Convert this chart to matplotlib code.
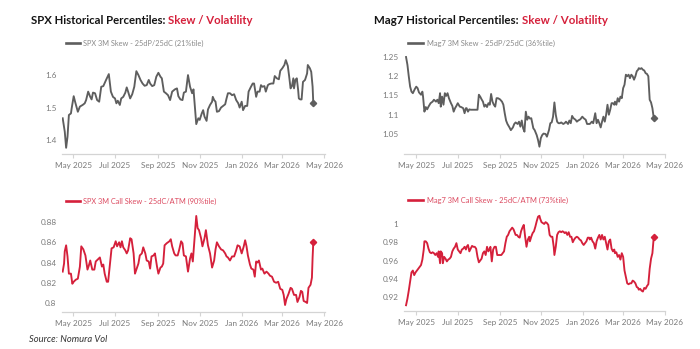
import matplotlib
matplotlib.use("Agg")
import matplotlib.pyplot as plt
import matplotlib.dates as mdates
from matplotlib.lines import Line2D
import pandas as pd

# ---------------------------------------------------------------------------
# Data: days counted from 1 May 2025, with the matching series values
# ---------------------------------------------------------------------------
BASE_DATE = "2025-05-01"

spx_skew_days = [
    -15, -12, -10, -8, -6, -3, -2, 1, 3, 7,
    10, 14, 17, 19, 22, 25, 27, 29, 32, 35,
    38, 41, 44, 48, 52, 55, 58, 61, 63, 65,
    68, 70, 73, 76, 78, 80, 83, 86, 89, 92,
    95, 98, 101, 104, 107, 110, 112, 115, 118, 121,
    124, 127, 129, 132, 135, 138, 141, 144, 148, 151,
    153, 156, 159, 161, 164, 167, 170, 173, 175, 177,
    179, 182, 184, 187, 189, 191, 194, 196, 199, 202,
    203, 205, 207, 209, 212, 215, 218, 221, 223, 225,
    228, 231, 234, 237, 240, 242, 245, 247, 250, 253,
    255, 258, 261, 263, 266, 268, 271, 273, 275, 278,
    280, 283, 285, 288, 291, 293, 296, 299, 301, 304,
    307, 309, 312, 314, 316, 318, 320, 321, 323, 325,
    327, 328, 330, 332, 334, 337, 340, 341, 344, 346,
    348, 349,
]
spx_skew = [
    1.467, 1.426, 1.376, 1.410, 1.477, 1.482, 1.497, 1.535, 1.518, 1.487,
    1.503, 1.508, 1.513, 1.523, 1.549, 1.533, 1.525, 1.546, 1.544, 1.523,
    1.518, 1.564, 1.566, 1.585, 1.603, 1.549, 1.533, 1.528, 1.513, 1.521,
    1.508, 1.528, 1.533, 1.546, 1.562, 1.549, 1.528, 1.541, 1.564, 1.612,
    1.600, 1.585, 1.574, 1.567, 1.569, 1.585, 1.574, 1.566, 1.569, 1.595,
    1.607, 1.595, 1.590, 1.549, 1.544, 1.538, 1.523, 1.549, 1.556, 1.559,
    1.535, 1.525, 1.523, 1.546, 1.549, 1.600, 1.564, 1.544, 1.556, 1.503,
    1.449, 1.467, 1.462, 1.482, 1.492, 1.472, 1.459, 1.494, 1.508, 1.518,
    1.533, 1.523, 1.518, 1.487, 1.489, 1.500, 1.505, 1.510, 1.528, 1.544,
    1.544, 1.538, 1.541, 1.523, 1.513, 1.500, 1.518, 1.492, 1.505, 1.505,
    1.549, 1.562, 1.574, 1.574, 1.533, 1.549, 1.549, 1.569, 1.564, 1.566,
    1.549, 1.569, 1.572, 1.574, 1.574, 1.597, 1.590, 1.587, 1.613, 1.621,
    1.631, 1.646, 1.628, 1.595, 1.559, 1.566, 1.590, 1.559, 1.585, 1.590,
    1.554, 1.528, 1.525, 1.525, 1.579, 1.585, 1.605, 1.631, 1.621, 1.610,
    1.564, 1.513,
]

spx_call_days = [
    -15, -13, -12, -10, -8, -6, -3, -1, 1, 4,
    7, 10, 12, 15, 18, 21, 23, 25, 28, 31,
    33, 36, 39, 42, 44, 46, 49, 51, 54, 56,
    59, 62, 64, 67, 69, 71, 73, 76, 78, 80,
    83, 85, 88, 90, 92, 95, 97, 100, 102, 105,
    107, 110, 112, 114, 117, 119, 122, 124, 127, 129,
    131, 133, 136, 140, 142, 144, 147, 149, 152, 154,
    157, 159, 161, 164, 167, 170, 172, 174, 176, 179,
    181, 183, 186, 188, 191, 193, 196, 199, 202, 205,
    207, 209, 212, 215, 218, 221, 223, 225, 228, 231,
    234, 237, 239, 242, 245, 248, 250, 252, 254, 257,
    259, 262, 264, 266, 268, 270, 273, 275, 278, 281,
    284, 286, 289, 292, 295, 298, 301, 304, 306, 308,
    310, 313, 316, 318, 321, 324, 326, 329, 331, 333,
    335, 338, 340, 342, 345, 347, 348, 349,
]
spx_call = [
    0.831, 0.839, 0.851, 0.857, 0.846, 0.829, 0.829, 0.819, 0.821, 0.823,
    0.824, 0.836, 0.856, 0.853, 0.847, 0.833, 0.837, 0.842, 0.833, 0.833,
    0.841, 0.843, 0.845, 0.836, 0.838, 0.829, 0.821, 0.821, 0.841, 0.854,
    0.855, 0.861, 0.856, 0.860, 0.855, 0.861, 0.855, 0.852, 0.849, 0.852,
    0.864, 0.863, 0.849, 0.829, 0.833, 0.839, 0.847, 0.849, 0.855, 0.849,
    0.842, 0.841, 0.834, 0.846, 0.847, 0.849, 0.836, 0.829, 0.835, 0.836,
    0.839, 0.857, 0.859, 0.861, 0.863, 0.856, 0.849, 0.847, 0.847, 0.852,
    0.861, 0.859, 0.847, 0.846, 0.831, 0.844, 0.849, 0.841, 0.859, 0.886,
    0.874, 0.872, 0.864, 0.856, 0.864, 0.872, 0.857, 0.849, 0.835, 0.842,
    0.853, 0.860, 0.856, 0.853, 0.852, 0.849, 0.846, 0.845, 0.842, 0.846,
    0.846, 0.852, 0.857, 0.856, 0.849, 0.856, 0.862, 0.856, 0.847, 0.838,
    0.834, 0.833, 0.826, 0.841, 0.840, 0.842, 0.833, 0.834, 0.829, 0.831,
    0.829, 0.827, 0.826, 0.821, 0.820, 0.821, 0.814, 0.813, 0.808, 0.798,
    0.804, 0.809, 0.815, 0.814, 0.808, 0.808, 0.801, 0.806, 0.812, 0.811,
    0.802, 0.801, 0.800, 0.815, 0.818, 0.825, 0.845, 0.860,
]

mag7_skew_days = [
    -15, -13, -11, -9, -7, -5, -2, 0, 2, 4,
    7, 9, 10, 12, 14, 16, 18, 21, 24, 26,
    29, 31, 33, 35, 36, 38, 40, 42, 44, 46,
    48, 51, 53, 55, 57, 59, 61, 64, 66, 69,
    71, 73, 74, 76, 78, 80, 83, 85, 88, 90,
    92, 94, 96, 98, 100, 102, 104, 106, 108, 110,
    112, 114, 116, 118, 120, 123, 126, 128, 130, 132,
    134, 137, 139, 142, 144, 146, 149, 151, 153, 155,
    157, 159, 161, 163, 165, 167, 169, 172, 174, 177,
    179, 181, 183, 185, 187, 190, 192, 195, 197, 199,
    201, 203, 205, 207, 209, 211, 213, 216, 218, 220,
    223, 225, 227, 229, 231, 234, 236, 238, 241, 244,
    246, 249, 251, 253, 255, 258, 260, 263, 265, 267,
    269, 271, 273, 275, 277, 279, 281, 283, 285, 287,
    289, 291, 292, 294, 296, 298, 300, 302, 304, 306,
    308, 310, 312, 314, 316, 318, 320, 322, 324, 326,
    327, 329, 331, 333, 335, 337, 339, 341, 343, 345,
    347, 349,
]
mag7_skew = [
    1.250, 1.230, 1.200, 1.173, 1.160, 1.156, 1.167, 1.173, 1.169, 1.158,
    1.152, 1.160, 1.147, 1.108, 1.120, 1.114, 1.121, 1.130, 1.134, 1.139,
    1.134, 1.139, 1.130, 1.156, 1.121, 1.147, 1.126, 1.156, 1.149, 1.156,
    1.143, 1.130, 1.123, 1.108, 1.117, 1.123, 1.130, 1.121, 1.120, 1.117,
    1.104, 1.117, 1.117, 1.108, 1.114, 1.113, 1.113, 1.113, 1.113, 1.113,
    1.152, 1.147, 1.140, 1.134, 1.121, 1.126, 1.120, 1.130, 1.126, 1.154,
    1.134, 1.126, 1.121, 1.143, 1.143, 1.140, 1.134, 1.126, 1.104, 1.085,
    1.076, 1.067, 1.060, 1.067, 1.076, 1.080, 1.076, 1.082, 1.069, 1.085,
    1.065, 1.056, 1.108, 1.087, 1.095, 1.090, 1.091, 1.065, 1.060, 1.047,
    1.034, 1.017, 1.039, 1.047, 1.051, 1.050, 1.043, 1.060, 1.078, 1.080,
    1.095, 1.132, 1.100, 1.082, 1.078, 1.078, 1.080, 1.076, 1.078, 1.082,
    1.076, 1.085, 1.078, 1.097, 1.091, 1.087, 1.082, 1.085, 1.088, 1.095,
    1.091, 1.087, 1.076, 1.076, 1.076, 1.082, 1.078, 1.104, 1.078, 1.087,
    1.078, 1.067, 1.082, 1.095, 1.082, 1.100, 1.126, 1.100, 1.113, 1.130,
    1.130, 1.126, 1.134, 1.126, 1.143, 1.134, 1.147, 1.143, 1.169, 1.178,
    1.204, 1.200, 1.204, 1.195, 1.204, 1.200, 1.191, 1.200, 1.213, 1.217,
    1.221, 1.219, 1.221, 1.217, 1.215, 1.208, 1.206, 1.200, 1.139, 1.132,
    1.117, 1.091,
]

mag7_call_days = [
    -15, -13, -11, -9, -7, -5, -3, -1, 1, 3,
    5, 7, 9, 11, 12, 14, 16, 18, 20, 22,
    24, 26, 28, 30, 32, 33, 35, 36, 38, 39,
    41, 43, 45, 47, 49, 51, 53, 55, 57, 59,
    61, 63, 65, 67, 69, 71, 73, 74, 76, 78,
    80, 82, 84, 86, 88, 90, 92, 94, 96, 98,
    100, 102, 104, 106, 108, 109, 111, 113, 115, 117,
    119, 121, 123, 125, 127, 129, 131, 133, 135, 137,
    139, 141, 143, 145, 146, 148, 150, 152, 154, 156,
    158, 160, 162, 164, 166, 167, 169, 171, 173, 175,
    177, 179, 181, 182, 184, 186, 188, 190, 192, 194,
    196, 198, 200, 202, 203, 205, 207, 209, 211, 213,
    215, 217, 218, 220, 222, 224, 226, 228, 230, 232,
    234, 236, 238, 240, 242, 244, 246, 248, 250, 252,
    254, 255, 257, 259, 261, 263, 265, 267, 269, 271,
    273, 275, 277, 279, 281, 283, 285, 287, 289, 291,
    292, 294, 296, 298, 300, 302, 304, 306, 308, 310,
    312, 314, 316, 318, 320, 322, 324, 326, 327, 329,
    331, 333, 335, 337, 339, 341, 343, 345, 347, 349,
]
mag7_call = [
    0.911, 0.918, 0.927, 0.937, 0.947, 0.949, 0.944, 0.947, 0.949, 0.951,
    0.953, 0.955, 0.961, 0.972, 0.981, 0.981, 0.979, 0.973, 0.969, 0.968,
    0.969, 0.968, 0.966, 0.968, 0.964, 0.970, 0.957, 0.970, 0.968, 0.957,
    0.964, 0.962, 0.959, 0.961, 0.962, 0.964, 0.970, 0.973, 0.975, 0.979,
    0.972, 0.970, 0.968, 0.972, 0.973, 0.975, 0.972, 0.975, 0.977, 0.970,
    0.973, 0.976, 0.975, 0.975, 0.973, 0.964, 0.958, 0.960, 0.962, 0.968,
    0.970, 0.966, 0.975, 0.970, 0.973, 0.975, 0.959, 0.972, 0.975, 0.975,
    0.966, 0.966, 0.966, 0.966, 0.968, 0.970, 0.979, 0.986, 0.988, 0.992,
    0.994, 0.996, 0.994, 0.990, 0.988, 0.988, 0.986, 0.985, 0.992, 0.996,
    0.999, 0.986, 0.975, 0.983, 0.986, 0.981, 0.986, 0.990, 0.992, 0.997,
    1.003, 1.008, 1.009, 1.006, 1.002, 1.001, 1.000, 1.002, 1.001, 0.999,
    0.988, 0.986, 0.986, 0.975, 0.966, 0.975, 0.988, 0.991, 0.992, 0.991,
    0.992, 0.991, 0.990, 0.991, 0.988, 0.991, 0.986, 0.986, 0.980, 0.983,
    0.985, 0.986, 0.985, 0.983, 0.982, 0.979, 0.977, 0.979, 0.981, 0.985,
    0.985, 0.983, 0.985, 0.981, 0.979, 0.973, 0.981, 0.985, 0.988, 0.983,
    0.988, 0.983, 0.986, 0.979, 0.972, 0.981, 0.983, 0.973, 0.970, 0.972,
    0.968, 0.969, 0.964, 0.966, 0.961, 0.968, 0.964, 0.949, 0.942, 0.935,
    0.934, 0.935, 0.935, 0.938, 0.937, 0.935, 0.931, 0.930, 0.928, 0.929,
    0.927, 0.926, 0.930, 0.929, 0.932, 0.934, 0.951, 0.962, 0.968, 0.986,
]

spx_skew_label = "SPX 3M Skew - 25dP/25dC (21%tile)"
spx_call_label = "SPX 3M Call Skew - 25dC/ATM (90%tile)"
mag7_skew_label = "Mag7 3M Skew - 25dP/25dC (36%tile)"
mag7_call_label = "Mag7 3M Call Skew - 25dC/ATM (73%tile)"

spx_skew_ticks = [1.4, 1.5, 1.6]
spx_call_ticks = [0.80, 0.82, 0.84, 0.86, 0.88]
mag7_skew_ticks = [1.05, 1.10, 1.15, 1.20, 1.25]
mag7_call_ticks = [0.92, 0.94, 0.96, 0.98, 1.00]

# ---------------------------------------------------------------------------
# Styling
# ---------------------------------------------------------------------------
GREY = "#5e5e5e"
RED = "#d5203b"
LABEL_GREY = "#7a7a7a"
AXIS_GREY = "#d4d4d4"
W, H = 700, 349

plt.rcParams["font.family"] = ["Lato", "DejaVu Sans"]

fig = plt.figure(figsize=(W / 100, H / 100), dpi=100)
fig.patch.set_facecolor("white")


def add_axes_px(x0, y0, x1, y1):
    return fig.add_axes([x0 / W, 1 - y1 / H, (x1 - x0) / W, (y1 - y0) / H])


def draw_panel(ax, days, vals, color, ylim, yticks, xlim):
    dates = pd.Timestamp(BASE_DATE) + pd.to_timedelta(days, unit="D")
    ax.plot(dates, vals, color=color, lw=1.35, solid_joinstyle="round")
    ax.plot(dates[-1:], vals[-1:], marker="D", ms=3.2, color=color, lw=0)
    ax.set_ylim(*ylim)
    ax.set_yticks(yticks)
    ax.set_yticklabels([f"{v:g}" for v in yticks])
    ax.set_xlim(pd.Timestamp(xlim[0]), pd.Timestamp(xlim[1]))
    ax.xaxis.set_major_locator(mdates.MonthLocator(bymonth=[1, 3, 5, 7, 9, 11]))
    ax.xaxis.set_major_formatter(mdates.DateFormatter("%b %Y"))
    for side in ("top", "right", "left"):
        ax.spines[side].set_visible(False)
    ax.spines["bottom"].set_color(AXIS_GREY)
    ax.spines["bottom"].set_linewidth(0.9)
    ax.tick_params(axis="y", length=0, pad=4, labelsize=5.9, labelcolor=LABEL_GREY)
    ax.tick_params(axis="x", length=3, width=0.8, color=AXIS_GREY, pad=2.5,
                   labelsize=5.9, labelcolor=LABEL_GREY)
    ax.set_facecolor("none")


left_xlim = ("2025-04-15", "2026-05-02")
right_xlim = ("2025-04-13", "2026-05-01 12:00")

ax1 = add_axes_px(62, 52, 325, 154)
draw_panel(ax1, spx_skew_days, spx_skew, GREY, (1.357, 1.671), spx_skew_ticks, left_xlim)

ax2 = add_axes_px(404, 52, 665, 154)
draw_panel(ax2, mag7_skew_days, mag7_skew, GREY, (0.998, 1.263), mag7_skew_ticks, right_xlim)

ax3 = add_axes_px(62, 210, 325, 312)
draw_panel(ax3, spx_call_days, spx_call, RED, (0.7911, 0.8919), spx_call_ticks, left_xlim)

ax4 = add_axes_px(404, 210, 665, 311)
draw_panel(ax4, mag7_call_days, mag7_call, RED, (0.9047, 1.0153), mag7_call_ticks, right_xlim)

fig.canvas.draw()
renderer = fig.canvas.get_renderer()


def text_width(t):
    return t.get_window_extent(renderer).width


def two_tone_title(x_px, y_px, first, second, width_px):
    yf = 1 - y_px / H
    t1 = fig.text(x_px / W, yf, first, fontsize=9, fontweight="bold",
                  color="#141414", ha="left", va="center")
    t2 = fig.text(x_px / W, yf, second, fontsize=9, fontweight="bold",
                  color=RED, ha="left", va="center")
    size = 9
    for _ in range(3):
        gap = 0.27 * size * 100 / 72
        total = text_width(t1) + gap + text_width(t2)
        size *= width_px / total
        t1.set_fontsize(size)
        t2.set_fontsize(size)
    gap = 0.27 * size * 100 / 72
    t2.set_x((x_px + text_width(t1) + gap) / W)


def legend_entry(x0, x1, tx, y_px, color, label, width_px, text_color):
    yf = 1 - y_px / H
    fig.add_artist(Line2D([x0 / W, x1 / W], [yf, yf], color=color, lw=1.9,
                          transform=fig.transFigure))
    t = fig.text(tx / W, yf, label, fontsize=5.5, color=text_color,
                 ha="left", va="center")
    for _ in range(2):
        t.set_fontsize(t.get_fontsize() * width_px / text_width(t))


two_tone_title(31, 20, "SPX Historical Percentiles:", "Skew / Volatility", 222)
two_tone_title(374, 20, "Mag7 Historical Percentiles:", "Skew / Volatility", 233)

legend_entry(66, 80, 83, 43, GREY, spx_skew_label, 121, "#8a8a8a")
legend_entry(408, 423, 427, 43, GREY, mag7_skew_label, 127, "#8a8a8a")
legend_entry(66, 80, 83, 201, RED, spx_call_label, 134, "#dc4a60")
legend_entry(408, 423, 427, 200, RED, mag7_call_label, 141, "#dc4a60")

src = fig.text(29 / W, 1 - 339 / H, "Source: Nomura Vol", fontsize=6.5,
               style="italic", color="#333333", ha="left", va="center")
src.set_fontsize(src.get_fontsize() * 78 / text_width(src))

fig.savefig("out.png", dpi=100, facecolor="white")
